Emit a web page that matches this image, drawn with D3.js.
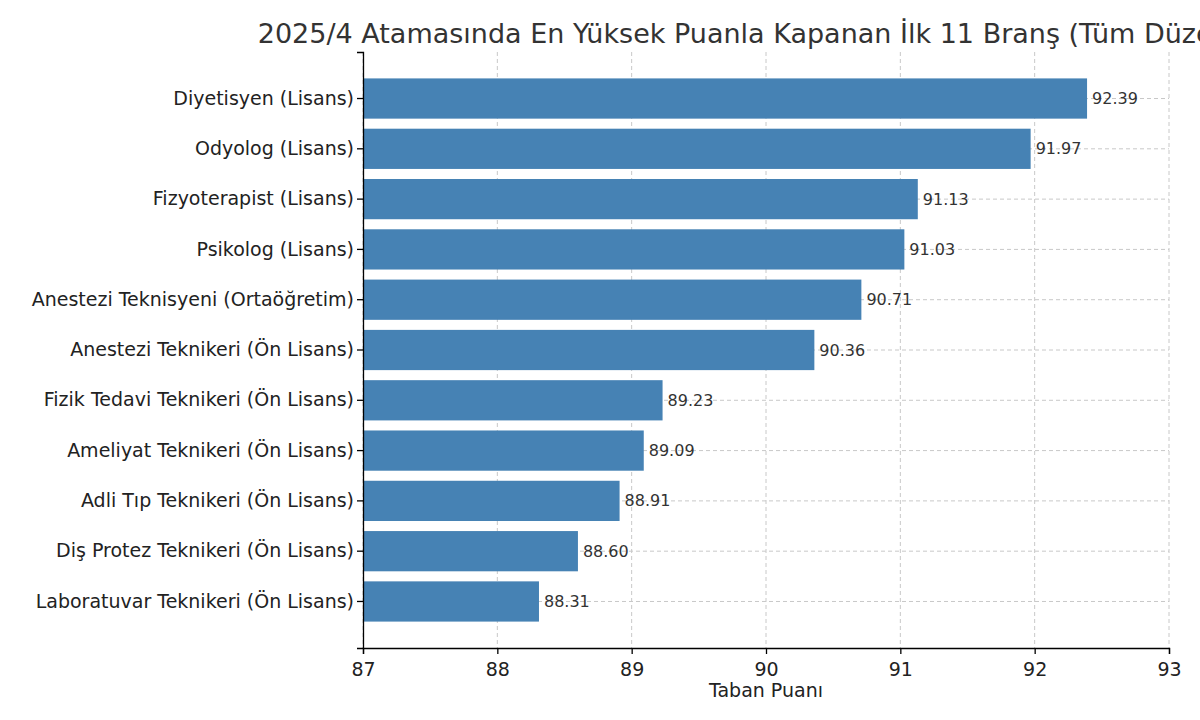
<!DOCTYPE html>
<meta charset="utf-8">
<html>
<head>
  <script src="https://d3js.org/d3.v7.min.js"></script>
  <style>
    body { margin: 0; background: #fff; font-family: "DejaVu Sans", sans-serif; }
  </style>
</head>
<body>
  <div id="chart"></div>
  <script>
    // data
    var branches = [
      "Diyetisyen (Lisans)", "Odyolog (Lisans)", "Fizyoterapist (Lisans)", "Psikolog (Lisans)",
      "Anestezi Teknisyeni (Ortaöğretim)", "Anestezi Teknikeri (Ön Lisans)",
      "Fizik Tedavi Teknikeri (Ön Lisans)", "Ameliyat Teknikeri (Ön Lisans)",
      "Adli Tıp Teknikeri (Ön Lisans)", "Diş Protez Teknikeri (Ön Lisans)",
      "Laboratuvar Teknikeri (Ön Lisans)"
    ];
    var scores = [92.39, 91.97, 91.13, 91.03, 90.71, 90.36, 89.23, 89.09, 88.91, 88.60, 88.31];
    var xTicks = [87, 88, 89, 90, 91, 92, 93];

    var margin = { top: 52, right: 31, bottom: 72, left: 363 },
      width = 1200 - margin.left - margin.right,
      height = 720 - margin.top - margin.bottom;

    var svg = d3.select("#chart").append("svg")
      .attr("width", 1200).attr("height", 720);

    // the title runs past the right edge, as in the original
    svg.append("text")
      .attr("x", margin.left + width / 2).attr("y", 43)
      .attr("text-anchor", "middle")
      .attr("font-size", 27).attr("fill", "#333")
      .text("2025/4 Atamasında En Yüksek Puanla Kapanan İlk 11 Branş (Tüm Düzeyler)");

    var g = svg.append("g")
      .attr("transform", "translate(" + margin.left + "," + margin.top + ")");

    var x = d3.scaleLinear().domain([87, 93]).range([0, width]);
    var y = d3.scaleBand().domain(branches).range([0, height]).paddingInner(0.2).paddingOuter(0.525);

    // grid
    g.selectAll(".vgrid").data(xTicks).enter().append("line")
      .attr("x1", d => x(d)).attr("x2", d => x(d))
      .attr("y1", 0).attr("y2", height)
      .attr("stroke", "#c8c8c8").attr("stroke-dasharray", "4,3");
    g.selectAll(".hgrid").data(branches).enter().append("line")
      .attr("x1", 0).attr("x2", width)
      .attr("y1", d => y(d) + y.bandwidth() / 2).attr("y2", d => y(d) + y.bandwidth() / 2)
      .attr("stroke", "#c8c8c8").attr("stroke-dasharray", "4,3");

    g.selectAll("rect").data(scores).enter().append("rect")
      .attr("x", 0)
      .attr("y", (d, i) => y(branches[i]))
      .attr("width", d => x(d))
      .attr("height", y.bandwidth())
      .attr("fill", "#4682b4");

    g.selectAll(".val").data(scores).enter().append("text")
      .attr("x", d => x(d) + 5)
      .attr("y", (d, i) => y(branches[i]) + y.bandwidth() / 2)
      .attr("dy", "0.35em")
      .attr("font-size", 16).attr("fill", "#333")
      .text(d => d.toFixed(2));

    var xAxis = g.append("g")
      .attr("transform", "translate(0," + height + ")")
      .call(d3.axisBottom(x).tickValues(xTicks).tickSize(6).tickFormat(d3.format("d")));
    xAxis.selectAll("text").attr("font-size", 19).attr("fill", "#222").attr("dy", "1em")
      .attr("font-family", "DejaVu Sans, sans-serif");

    var yAxis = g.append("g").call(d3.axisLeft(y).tickSize(6));
    yAxis.selectAll("text").attr("font-size", 19).attr("fill", "#222")
      .attr("font-family", "DejaVu Sans, sans-serif");

    [xAxis, yAxis].forEach(a => {
      a.selectAll("path, line").attr("stroke", "#000").attr("stroke-width", 1.3);
    });

    svg.append("text")
      .attr("x", margin.left + width / 2).attr("y", 697)
      .attr("text-anchor", "middle").attr("font-size", 19).attr("fill", "#222")
      .text("Taban Puanı");
  </script>
</body>
</html>
